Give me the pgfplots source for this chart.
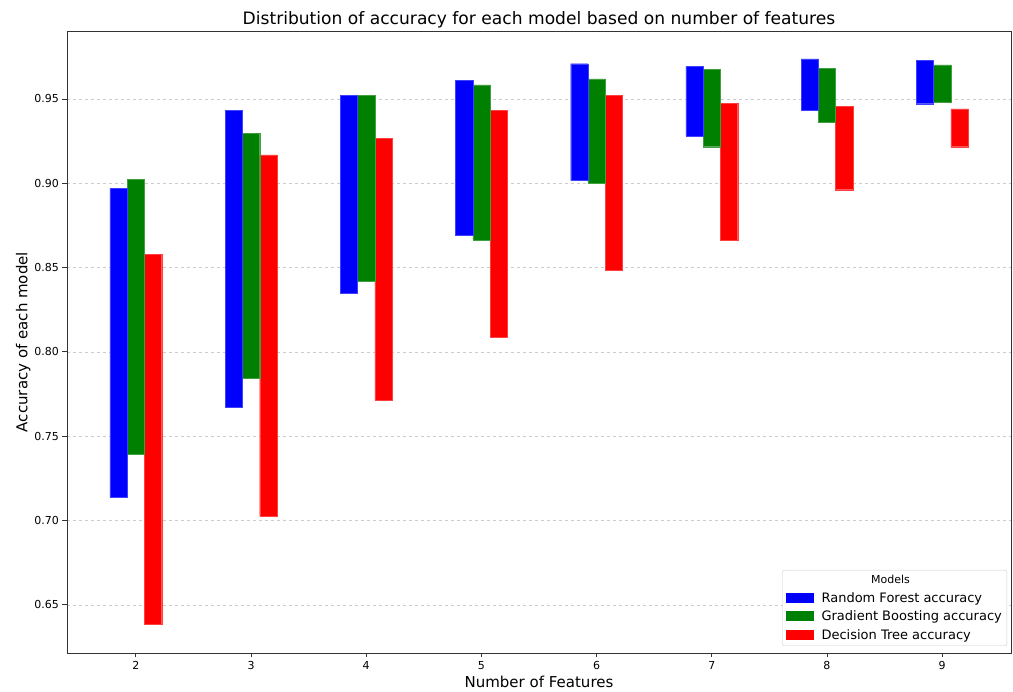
\documentclass[border=0pt]{standalone}
\usepackage{fontspec}
\setmainfont{DejaVu Sans}
\usepackage{pgfplots}
\usepackage{pgfplotstable}
\pgfplotsset{compat=1.18}

\definecolor{rfblue}{RGB}{0,0,255}
\definecolor{gbgreen}{RGB}{0,128,0}
\definecolor{dtred}{RGB}{255,0,0}

% min / max accuracy per model for each number of features
\pgfplotstableread{
x bLo    bHi    gLo    gHi    tLo    tHi
2 0.7137 0.8969 0.7392 0.9022 0.6385 0.8579
3 0.7670 0.9432 0.7842 0.9296 0.7027 0.9168
4 0.8346 0.9521 0.8419 0.9521 0.7713 0.9266
5 0.8691 0.9610 0.8664 0.9583 0.8087 0.9431
6 0.9016 0.9709 0.8998 0.9619 0.8484 0.9521
7 0.9281 0.9693 0.9217 0.9674 0.8664 0.9476
8 0.9435 0.9737 0.9364 0.9681 0.8962 0.9458
9 0.9472 0.9729 0.9482 0.9702 0.9217 0.9441
}\acc

\begin{document}
\begin{tikzpicture}
\begin{axis}[
  scale only axis,
  width=944pt, height=622pt,
  xmin=1.4025, xmax=9.5975,
  ymin=0.6215, ymax=0.9903,
  ybar stacked,
  stack negative=on previous,
  bar width=0.15,
  xtick={2,3,4,5,6,7,8,9},
  ytick={0.65,0.70,0.75,0.80,0.85,0.90,0.95},
  /pgf/number format/assume math mode=true,
  yticklabel style={/pgf/number format/fixed, /pgf/number format/precision=2, /pgf/number format/fixed zerofill},
  ticklabel style={font=\fontsize{11}{13}\selectfont},
  tick align=outside, tick pos=left,
  major tick length=4.5pt,
  tick style={black!80, line width=0.9pt},
  axis line style={black!80, line width=0.9pt},
  ymajorgrids,
  major grid style={gray!40, dashed, line width=0.8pt},
  xlabel={Number of Features},
  ylabel={Accuracy of each model},
  label style={font=\fontsize{15}{18}\selectfont},
  xlabel style={yshift=0pt},
  ylabel style={yshift=-3pt},
  title={Distribution of accuracy for each model based on number of features},
  title style={font=\fontsize{17.1}{20}\selectfont, yshift=-7pt},
  legend cell align=left,
  legend style={at={(rel axis cs:0.9958,0.0113)}, anchor=south east,
    draw=gray!40, rounded corners=2pt, fill=white,
    font=\fontsize{13}{15}\selectfont, row sep=3.2pt,
    inner xsep=3pt, inner ysep=3pt,
    /tikz/every odd column/.append style={column sep=6pt}},
  legend image code/.code={\fill[#1, draw=none, sharp corners] (0pt,-5pt) rectangle (28pt,5pt);},
]
\addlegendimage{empty legend}
\addlegendentry{\hspace*{-42pt}\makebox[222pt][c]{\fontsize{11}{13}\selectfont Models}}
% base up to the lower end of the random forest range
\addplot[draw=none, fill=none, forget plot, bar shift=-0.15] table[x=x, y=bLo] {\acc};
\addplot[fill=rfblue, draw=rfblue!75!white, line width=0.3pt, bar shift=-0.15]
  table[x=x, y expr=\thisrow{bHi}-\thisrow{bLo}] {\acc};
\addlegendentry{Random Forest accuracy}
% move the stack to the lower end of the gradient boosting range
\addplot[draw=none, fill=none, forget plot, bar shift=0]
  table[x=x, y expr=\thisrow{gLo}-\thisrow{bHi}] {\acc};
\addplot[fill=gbgreen, draw=gbgreen!75!white, line width=0.3pt, bar shift=0]
  table[x=x, y expr=\thisrow{gHi}-\thisrow{gLo}] {\acc};
\addlegendentry{Gradient Boosting accuracy}
% move the stack to the lower end of the decision tree range
\addplot[draw=none, fill=none, forget plot, bar shift=0.15]
  table[x=x, y expr=\thisrow{tLo}-\thisrow{gHi}] {\acc};
\addplot[fill=dtred, draw=dtred!75!white, line width=0.3pt, bar shift=0.15]
  table[x=x, y expr=\thisrow{tHi}-\thisrow{tLo}] {\acc};
\addlegendentry{Decision Tree accuracy}
\end{axis}
\path (-67pt,-39pt) rectangle (946pt,653pt);
\end{tikzpicture}
\end{document}
